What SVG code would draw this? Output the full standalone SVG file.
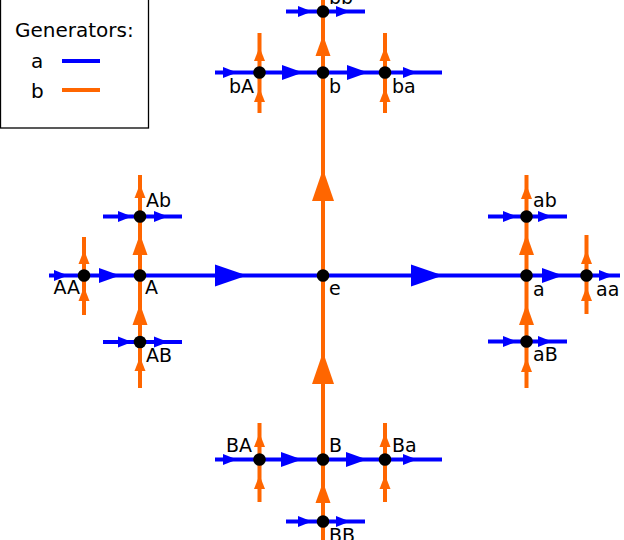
<svg xmlns="http://www.w3.org/2000/svg" xmlns:xlink="http://www.w3.org/1999/xlink" width="624" height="540" viewBox="0 0 624 540">
<style>
.ea{stroke:#0000ff;stroke-width:4;fill:none}
.eb{stroke:#ff6600;stroke-width:4;fill:none}
.ha{fill:#0000ff}
.hb{fill:#ff6600}
.nd{fill:#000}
text{font-family:"DejaVu Sans","Liberation Sans",sans-serif;fill:#000}
.lb{font-size:19px}
.lg{font-size:20px}
.end{text-anchor:end}
</style>
<defs>
<path id="r1" d="M0 0 L-32 -11 L-32 11 Z"/>
<path id="u1" d="M0 0 L-11 32 L11 32 Z"/>
<path id="r2" d="M0 0 L-21 -7.5 L-21 7.5 Z"/>
<path id="u2" d="M0 0 L-7.5 21 L7.5 21 Z"/>
<path id="r3" d="M0 0 L-14 -5.5 L-14 5.5 Z"/>
<path id="u3" d="M0 0 L-5.5 14 L5.5 14 Z"/>
</defs>
<rect width="624" height="540" fill="#fff"/>
<g id="legend">
<rect x="0.5" y="-2" width="148" height="130" fill="#fff" stroke="#000" stroke-width="1.3"/>
<text class="lg" x="15" y="37">Generators:</text>
<text class="lg" x="31" y="68">a</text>
<text class="lg" x="31" y="98">b</text>
<line x1="62" y1="61" x2="100" y2="61" stroke="#0000ff" stroke-width="4"/>
<line x1="62" y1="90" x2="100" y2="90" stroke="#ff6600" stroke-width="4"/>
</g>
<g id="connectors">
<path class="eb" d="M323 0 V540 M259.5 33 V113 M385 33 V113 M259.5 423 V502 M385 423 V502 M140 175 V388 M526.5 175 V388 M84 237 V315 M586.5 235 V314"/>
<path class="ea" d="M49 275.5 H620 M215 72.5 H442 M215 459.5 H442 M286 11.5 H365 M286 521.5 H365 M103 216.5 H182 M103 342 H182 M488 216.5 H567 M488 341.5 H567"/>
<g class="ha">
<use href="#r1" x="247" y="275.5"/>
<use href="#r1" x="443" y="275.5"/>
<use href="#r2" x="303" y="72.5"/>
<use href="#r2" x="368" y="72.5"/>
<use href="#r2" x="302" y="459.5"/>
<use href="#r2" x="367" y="459.5"/>
<use href="#r2" x="120" y="275.5"/>
<use href="#r2" x="563" y="275.5"/>
<use href="#r3" x="237" y="72.5"/>
<use href="#r3" x="417" y="72.5"/>
<use href="#r3" x="237" y="459.5"/>
<use href="#r3" x="417" y="459.5"/>
<use href="#r3" x="312" y="11.5"/>
<use href="#r3" x="350" y="11.5"/>
<use href="#r3" x="312" y="521.5"/>
<use href="#r3" x="350" y="521.5"/>
<use href="#r3" x="68" y="275.5"/>
<use href="#r3" x="613" y="275.5"/>
<use href="#r3" x="132" y="216.5"/>
<use href="#r3" x="168" y="216.5"/>
<use href="#r3" x="132" y="342"/>
<use href="#r3" x="168" y="342"/>
<use href="#r3" x="517" y="216.5"/>
<use href="#r3" x="552" y="216.5"/>
<use href="#r3" x="517" y="341.5"/>
<use href="#r3" x="552" y="341.5"/>
</g>
<g class="hb">
<use href="#u1" x="323" y="169"/>
<use href="#u1" x="323" y="352"/>
<use href="#u2" x="323" y="35"/>
<use href="#u2" x="323" y="482"/>
<use href="#u2" x="140" y="234"/>
<use href="#u2" x="140" y="304"/>
<use href="#u2" x="526.5" y="234"/>
<use href="#u2" x="526.5" y="304"/>
<use href="#u3" x="259.5" y="47"/>
<use href="#u3" x="259.5" y="88"/>
<use href="#u3" x="385" y="47"/>
<use href="#u3" x="385" y="88"/>
<use href="#u3" x="259.5" y="433"/>
<use href="#u3" x="259.5" y="475"/>
<use href="#u3" x="385" y="433"/>
<use href="#u3" x="385" y="475"/>
<use href="#u3" x="84" y="250"/>
<use href="#u3" x="84" y="287"/>
<use href="#u3" x="586.5" y="250"/>
<use href="#u3" x="586.5" y="287"/>
<use href="#u3" x="140" y="184"/>
<use href="#u3" x="526.5" y="185"/>
<use href="#u3" x="140" y="357"/>
<use href="#u3" x="526.5" y="358"/>
</g>
</g>
<g id="node-e"><circle class="nd" cx="323" cy="275.5" r="6.3"/><text class="lb" x="329" y="294.5">e</text></g>
<g id="node-a"><circle class="nd" cx="526.5" cy="275.5" r="6.3"/><text class="lb" x="533" y="296">a</text></g>
<g id="node-aa"><circle class="nd" cx="586.5" cy="275.5" r="6.3"/><text class="lb" x="596" y="296">aa</text></g>
<g id="node-ab"><circle class="nd" cx="526.5" cy="216.5" r="6.3"/><text class="lb" x="533" y="207">ab</text></g>
<g id="node-aB"><circle class="nd" cx="526.5" cy="341.5" r="6.3"/><text class="lb" x="533" y="361">aB</text></g>
<g id="node-A"><circle class="nd" cx="140" cy="275.5" r="6.3"/><text class="lb" x="145" y="294">A</text></g>
<g id="node-AA"><circle class="nd" cx="84" cy="275.5" r="6.3"/><text class="lb end" x="80" y="294">AA</text></g>
<g id="node-Ab"><circle class="nd" cx="140" cy="216.5" r="6.3"/><text class="lb" x="146" y="207">Ab</text></g>
<g id="node-AB"><circle class="nd" cx="140" cy="342" r="6.3"/><text class="lb" x="146" y="362">AB</text></g>
<g id="node-b"><circle class="nd" cx="323" cy="72.5" r="6.3"/><text class="lb" x="329" y="93">b</text></g>
<g id="node-bb"><circle class="nd" cx="323" cy="11.5" r="6.3"/><text class="lb" x="329" y="3.5">bb</text></g>
<g id="node-bA"><circle class="nd" cx="259.5" cy="72.5" r="6.3"/><text class="lb end" x="254" y="93">bA</text></g>
<g id="node-ba"><circle class="nd" cx="385" cy="72.5" r="6.3"/><text class="lb" x="392" y="93">ba</text></g>
<g id="node-B"><circle class="nd" cx="323" cy="459.5" r="6.3"/><text class="lb" x="329" y="452">B</text></g>
<g id="node-BB"><circle class="nd" cx="323" cy="521.5" r="6.3"/><text class="lb" x="329" y="542">BB</text></g>
<g id="node-BA"><circle class="nd" cx="259.5" cy="459.5" r="6.3"/><text class="lb end" x="252" y="452">BA</text></g>
<g id="node-Ba"><circle class="nd" cx="385" cy="459.5" r="6.3"/><text class="lb" x="392" y="452">Ba</text></g>
</svg>
